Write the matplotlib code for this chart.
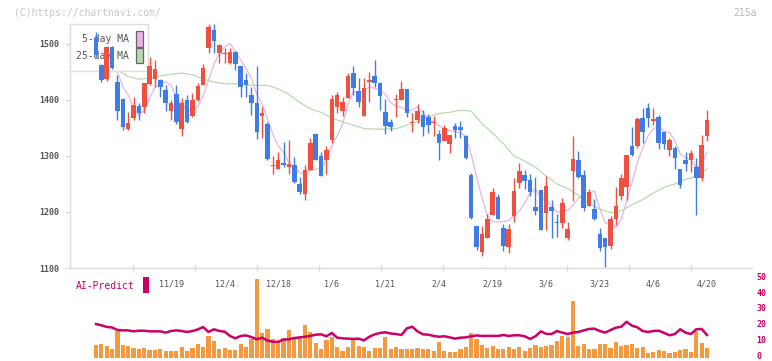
import matplotlib.pyplot as plt
import matplotlib.patches as mpatches
import matplotlib.transforms as mtransforms
import numpy as np
import pandas as pd

# -----------------------------
# Data
# -----------------------------
date_labels = ["11/19", "12/4", "12/18", "1/6", "1/21", "2/4",
               "2/19", "3/6", "3/23", "4/6", "4/20"]
date_index = [14, 24, 34, 44, 54, 64, 74, 84, 94, 104, 114]

opens = [1510, 1462, 1437, 1494, 1433, 1402, 1349, 1368, 1389, 1388,
         1428, 1437, 1436, 1417, 1381, 1411, 1349, 1400, 1371, 1400,
         1427, 1493, 1525, 1484, 1482, 1466, 1485, 1460, 1436, 1409,
         1395, 1372, 1357, 1282, 1277, 1288, 1281, 1284, 1250, 1233,
         1275, 1339, 1300, 1292, 1329, 1388, 1380, 1404, 1449, 1416,
         1372, 1433, 1443, 1431, 1379, 1361, 1400, 1400, 1420, 1359,
         1364, 1373, 1370, 1359, 1340, 1327, 1321, 1354, 1352, 1336,
         1266, 1175, 1129, 1153, 1195, 1226, 1172, 1137, 1193, 1252,
         1266, 1257, 1209, 1240, 1199, 1209, 1182, 1180, 1154, 1274,
         1293, 1266, 1211, 1205, 1161, 1154, 1139, 1188, 1229, 1244,
         1317, 1317, 1368, 1385, 1363, 1370, 1342, 1310, 1314, 1277,
         1292, 1292, 1281, 1261, 1336]
highs = [1522, 1465, 1497, 1496, 1445, 1404, 1379, 1405, 1395, 1431,
         1476, 1471, 1437, 1427, 1400, 1427, 1404, 1409, 1413, 1430,
         1465, 1536, 1536, 1500, 1493, 1493, 1487, 1460, 1448, 1424,
         1460, 1388, 1360, 1300, 1308, 1325, 1329, 1299, 1263, 1284,
         1333, 1339, 1308, 1317, 1409, 1415, 1406, 1448, 1460, 1439,
         1439, 1450, 1472, 1433, 1402, 1366, 1410, 1434, 1420, 1376,
         1393, 1382, 1375, 1372, 1346, 1356, 1337, 1359, 1362, 1338,
         1270, 1175, 1175, 1197, 1243, 1232, 1178, 1178, 1260, 1287,
         1275, 1268, 1262, 1240, 1264, 1221, 1197, 1225, 1182, 1336,
         1309, 1275, 1241, 1223, 1171, 1154, 1193, 1245, 1268, 1302,
         1352, 1369, 1385, 1394, 1385, 1373, 1342, 1333, 1318, 1277,
         1308, 1311, 1296, 1337, 1382]
lows = [1476, 1432, 1434, 1455, 1364, 1346, 1347, 1364, 1364, 1377,
        1426, 1424, 1406, 1381, 1364, 1358, 1336, 1359, 1370, 1398,
        1426, 1484, 1484, 1466, 1466, 1464, 1454, 1406, 1405, 1373,
        1330, 1332, 1292, 1268, 1277, 1281, 1268, 1251, 1233, 1221,
        1275, 1292, 1264, 1268, 1323, 1376, 1372, 1403, 1409, 1388,
        1372, 1397, 1424, 1383, 1339, 1345, 1369, 1400, 1369, 1342,
        1359, 1336, 1341, 1336, 1292, 1327, 1306, 1333, 1333, 1294,
        1187, 1133, 1122, 1153, 1195, 1188, 1131, 1126, 1182, 1243,
        1241, 1229, 1195, 1168, 1168, 1154, 1156, 1172, 1150, 1220,
        1260, 1201, 1211, 1186, 1131, 1102, 1134, 1177, 1222, 1222,
        1300, 1315, 1324, 1351, 1356, 1312, 1312, 1300, 1277, 1243,
        1273, 1272, 1195, 1256, 1327]
closes = [1480, 1436, 1494, 1458, 1381, 1352, 1359, 1391, 1377, 1430,
          1461, 1455, 1424, 1394, 1394, 1360, 1395, 1361, 1400, 1425,
          1457, 1530, 1506, 1498, 1484, 1485, 1464, 1424, 1426, 1395,
          1343, 1376, 1294, 1284, 1293, 1284, 1285, 1254, 1236, 1275,
          1323, 1293, 1264, 1311, 1402, 1409, 1397, 1443, 1422, 1396,
          1421, 1435, 1430, 1408, 1354, 1351, 1401, 1420, 1377, 1361,
          1380, 1352, 1355, 1361, 1324, 1350, 1337, 1347, 1347, 1296,
          1189, 1138, 1161, 1188, 1236, 1188, 1140, 1170, 1237, 1273,
          1256, 1236, 1202, 1168, 1246, 1201, 1180, 1216, 1170, 1294,
          1262, 1208, 1236, 1188, 1136, 1138, 1187, 1211, 1260, 1302,
          1301, 1366, 1343, 1367, 1366, 1324, 1322, 1329, 1297, 1248,
          1286, 1306, 1260, 1319, 1364]

# 25-day MA, read at every second session
ma25_index = [4, 6, 8, 10, 12, 14, 16, 18, 20, 22, 24, 26, 28, 30, 32, 34,
              36, 38, 40, 42, 44, 46, 48, 50, 52, 54, 56, 58, 60, 62, 64, 66,
              68, 70, 72, 74, 76, 78, 80, 82, 84, 86, 88, 90, 92, 94, 96, 98,
              100, 102, 104, 106, 108, 110, 112, 114]
ma25 = [1454, 1442, 1437, 1439, 1443, 1446, 1448, 1445, 1437, 1432, 1429,
        1429, 1427, 1426, 1426, 1420, 1410, 1396, 1384, 1378, 1368, 1361,
        1355, 1349, 1348, 1348, 1349, 1355, 1362, 1370, 1376, 1378, 1382,
        1380, 1358, 1341, 1322, 1300, 1291, 1280, 1264, 1250, 1242, 1230,
        1216, 1205, 1199, 1202, 1213, 1222, 1234, 1244, 1250, 1258, 1264,
        1277]

# lower panel (right axis units)
volume = [8.0, 8.6, 7.4, 5.5, 17.0, 8.0, 7.4, 6.1, 5.5, 6.1,
          4.8, 4.8, 5.5, 4.2, 4.2, 4.2, 6.7, 4.2, 6.1, 8.6,
          6.7, 13.7, 10.5, 5.5, 6.1, 4.8, 4.8, 8.6, 6.7, 11.8,
          49.6, 15.6, 18.1, 11.8, 10.5, 12.4, 17.4, 11.8, 13.0, 20.6,
          16.2, 9.3, 5.5, 11.1, 13.0, 6.7, 4.2, 6.7, 11.1, 7.4,
          6.7, 4.2, 6.1, 6.1, 13.0, 5.5, 6.7, 5.5, 5.5, 5.5,
          6.1, 5.5, 5.5, 4.2, 9.9, 4.2, 3.6, 3.6, 5.5, 6.7,
          15.6, 11.8, 8.0, 6.1, 7.4, 5.5, 5.5, 6.7, 5.5, 6.7,
          4.2, 6.1, 8.0, 6.7, 7.4, 8.0, 10.5, 13.7, 13.0, 35.7,
          7.4, 8.6, 5.5, 5.5, 8.6, 8.6, 6.1, 9.9, 7.4, 8.0,
          8.6, 6.1, 6.7, 2.9, 3.6, 4.8, 4.2, 2.9, 3.6, 4.8,
          5.5, 3.6, 16.8, 9.3, 6.1]
ai_predict = [21.2, 20.4, 19.4, 19.0, 17.5, 17.2, 17.2, 16.6, 17.0, 17.0,
              16.6, 16.6, 16.6, 15.8, 16.8, 17.2, 16.8, 16.2, 16.8, 17.8,
              19.3, 16.2, 17.9, 16.8, 16.4, 13.7, 12.2, 13.7, 14.0, 13.0,
              11.6, 12.6, 10.8, 10.0, 10.0, 11.4, 11.6, 12.4, 12.8, 13.2,
              13.7, 14.5, 14.7, 13.5, 15.6, 12.6, 12.2, 12.0, 11.8, 12.0,
              10.9, 13.2, 14.7, 15.6, 16.0, 15.2, 14.9, 14.3, 18.5, 19.5,
              16.6, 14.7, 14.5, 13.7, 13.2, 13.5, 12.8, 12.0, 12.6, 12.8,
              13.5, 14.0, 13.7, 13.7, 13.7, 13.7, 14.3, 13.7, 14.1, 14.1,
              13.5, 11.8, 13.5, 16.6, 15.0, 14.9, 16.8, 15.8, 14.9, 15.8,
              16.2, 17.2, 18.1, 18.3, 16.8, 15.8, 17.4, 18.9, 19.5, 22.6,
              20.2, 19.1, 16.8, 16.2, 16.8, 17.0, 15.6, 14.1, 14.9, 17.9,
              15.8, 14.9, 17.9, 18.1, 14.3]

# -----------------------------
# Style
# -----------------------------
RED = "#f2503f"
BLUE = "#3f7ce8"
PINK = "#e9b3ea"
GREEN = "#b6dcac"
ORANGE = "#f39a40"
MAGENTA = "#cc0066"
AXIS = "#dddddd"
TEXT = "#555555"
MONO = "DejaVu Sans Mono"

W, H = 772, 361


def fx(px):
    return px / W


def fy(py):
    return 1 - py / H


fig = plt.figure(figsize=(W / 100, H / 100), dpi=100, facecolor="white")

# -----------------------------
# Price panel
# -----------------------------
ax = fig.add_axes([fx(70), fy(268), fx(752) - fx(70), fy(24) - fy(268)])
ax.set_xlim(-4.85, 122.4)
ax.set_ylim(1100, 1535.7)

idx = np.arange(len(closes))
o = np.array(opens, dtype=float)
c = np.array(closes, dtype=float)
colors = np.where(c >= o, RED, BLUE)

ma5 = pd.Series(closes, dtype=float).rolling(5).mean()
ax.plot(idx, ma5, color=PINK, lw=0.9, zorder=2)
ax.plot(ma25_index, ma25, color=GREEN, lw=0.9, zorder=2)

ax.vlines(idx, lows, highs, colors=colors, lw=1.0, zorder=4)
ax.bar(idx, np.maximum(np.abs(c - o), 1.8), bottom=np.minimum(o, c),
       width=0.85, color=colors, lw=0, zorder=5)


# legend box (sits under the candles)
def axp(px, py):
    return (px - 70) / 682, (268 - py) / 244


x0, y0 = axp(70, 71)
x1, y1 = axp(148, 24)
ax.add_patch(mpatches.Rectangle((x0, y0), x1 - x0, y1 - y0, transform=ax.transAxes,
                                facecolor="white", edgecolor=AXIS, lw=1.0,
                                zorder=3, clip_on=False))
for label, ytop, ybot, sw in [("5-day MA", 31, 47, PINK), ("25-day MA", 48, 63, GREEN)]:
    tx, ty = axp(129, (ytop + ybot) / 2 + 0.5)
    ax.text(tx, ty, label, transform=ax.transAxes, ha="right", va="center",
            fontsize=7, family=MONO, color=TEXT, zorder=3.5)
    sx0, sy0 = axp(136, ybot)
    sx1, sy1 = axp(143, ytop)
    ax.add_patch(mpatches.Rectangle((sx0, sy0), sx1 - sx0, sy1 - sy0,
                                    transform=ax.transAxes, facecolor=sw,
                                    edgecolor="#666666", lw=0.9, zorder=3.5))

for side in ["top", "right"]:
    ax.spines[side].set_visible(False)
for side in ["left", "bottom"]:
    ax.spines[side].set_color(AXIS)
    ax.spines[side].set_linewidth(1.0)

ax.set_yticks([1100, 1200, 1300, 1400, 1500])
ax.tick_params(axis="y", direction="out", length=3.6, width=1.0, color=AXIS,
               labelsize=6, labelcolor=TEXT, pad=4.3)
ax.set_xticks(date_index)
ax.set_xticklabels(date_labels)
ax.tick_params(axis="x", length=0, labelsize=6, labelcolor=TEXT, pad=8)
ax.set_xticks(np.arange(6.85, 122, 11.567), minor=True)
ax.tick_params(axis="x", which="minor", direction="inout", length=4.3,
               width=1.0, color=AXIS)
for lab in ax.get_xticklabels() + ax.get_yticklabels():
    lab.set_family(MONO)
for lab in ax.get_yticklabels():
    lab.set_fontweight("bold")

# -----------------------------
# Lower panel: volume + AI-Predict
# -----------------------------
ax2 = fig.add_axes([fx(70), fy(357.7), fx(752) - fx(70), fy(278.3) - fy(357.7)])
ax2.patch.set_visible(False)
ax2.set_xlim(-4.85, 122.4)
ax2.set_ylim(0, 50)
ax2.bar(idx, volume, width=0.78, color=ORANGE, lw=0, zorder=2)
ax2.plot(idx, ai_predict, color=MAGENTA, lw=1.8, zorder=3)
for s in ax2.spines.values():
    s.set_visible(False)
ax2.set_xticks([])
ax2.yaxis.tick_right()
ax2.set_yticks([0, 10, 20, 30, 40, 50])
ax2.tick_params(axis="y", length=0, pad=3, labelsize=6, labelcolor=MAGENTA)
lift = mtransforms.ScaledTranslation(0, 1.5 / 72, fig.dpi_scale_trans)
for lab in ax2.get_yticklabels():
    lab.set_family(MONO)
    lab.set_fontweight("bold")
    lab.set_verticalalignment("center_baseline")
    lab.set_transform(lab.get_transform() + lift)

fig.text(fx(76), fy(286), "AI-Predict", fontsize=7, family=MONO,
         color=MAGENTA, ha="left", va="center")
fig.add_artist(mpatches.Rectangle((fx(143), fy(293)), fx(149) - fx(143),
                                  16 / H, transform=fig.transFigure,
                                  facecolor=MAGENTA, lw=0))

# header texts
fig.text(fx(14), fy(12.5), "(C)https://chartnavi.com/", fontsize=7,
         family=MONO, color="#c8c8c8", ha="left", va="center")
fig.text(fx(757), fy(12.5), "215a", fontsize=7, family=MONO,
         color="#b8b8b8", ha="right", va="center")

fig.savefig("out.png", dpi=100, facecolor="white")
